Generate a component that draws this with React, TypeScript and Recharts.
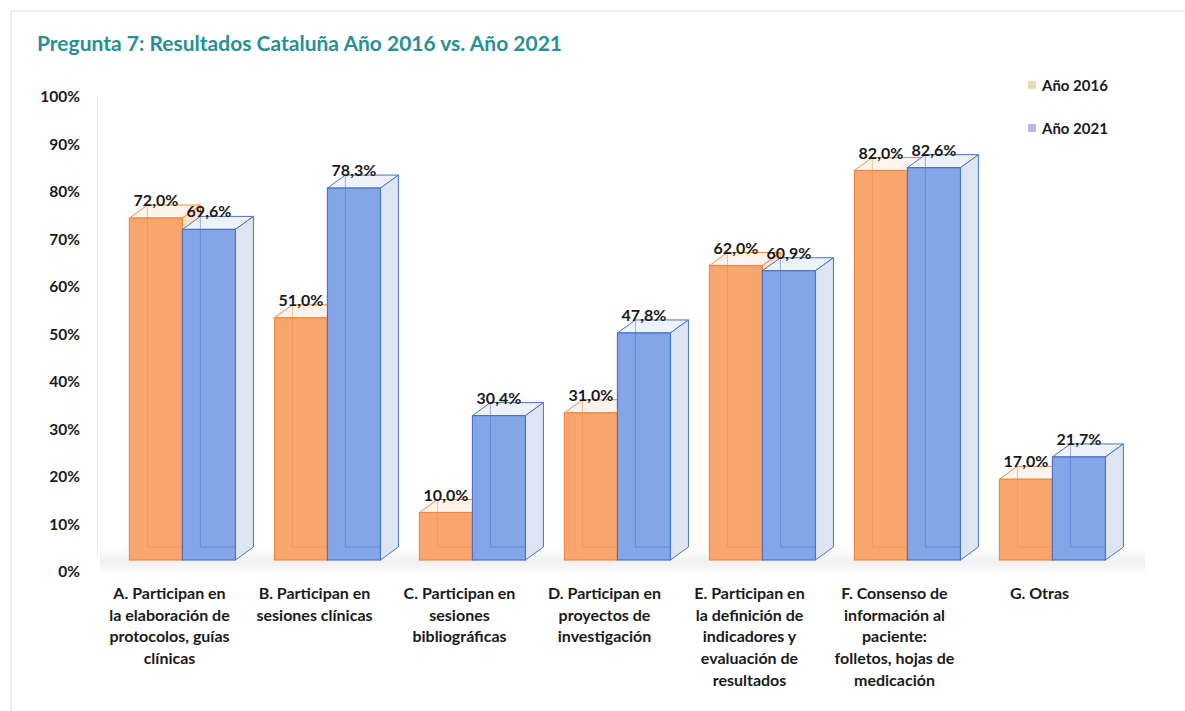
import React from 'react';
import { BarChart, Bar, XAxis, YAxis, LabelList, Legend } from 'recharts';

const categories = [
  'A. Participan en\nla elaboración de\nprotocolos, guías\nclínicas',
  'B. Participan en\nsesiones clínicas',
  'C. Participan en\nsesiones\nbibliográficas',
  'D. Participan en\nproyectos de\ninvestigación',
  'E. Participan en\nla definición de\nindicadores y\nevaluación de\nresultados',
  'F. Consenso de\ninformación al\npaciente:\nfolletos, hojas de\nmedicación',
  'G. Otras',
];
const values2016 = [72.0, 51.0, 10.0, 31.0, 62.0, 82.0, 17.0];
const values2021 = [69.6, 78.3, 30.4, 47.8, 60.9, 82.6, 21.7];
const yTicks = [0, 10, 20, 30, 40, 50, 60, 70, 80, 90, 100];
const seriesNames = ['Año 2016', 'Año 2021'];

const data = categories.map((cat, i) => ({
  cat,
  y2016: values2016[i],
  y2021: values2021[i],
}));

const FONT = 'Lato, "Open Sans", sans-serif';
const DX = 18; // profundidad 3D
const DY = 13;

const ORANGE = { front: '#F9A66E', edge: '#F28A3E', top: '#FEF4EC', side: '#FCE3D0' };
const BLUE = { front: '#84A6E8', edge: '#4A72C8', top: '#EEF2FA', side: '#DEE5F2' };

function make3DBar(c: typeof ORANGE) {
  return (props: any) => {
    const { x, y, width: w, height: h } = props;
    if (w == null || h == null) return null;
    return (
      <g>
        {/* cara superior */}
        <polygon
          points={`${x},${y} ${x + DX},${y - DY} ${x + w + DX},${y - DY} ${x + w},${y}`}
          fill={c.top}
          stroke={c.edge}
          strokeWidth={1}
        />
        {/* cara lateral */}
        <polygon
          points={`${x + w},${y} ${x + w + DX},${y - DY} ${x + w + DX},${y + h - DY} ${x + w},${y + h}`}
          fill={c.side}
          stroke={c.edge}
          strokeWidth={1}
        />
        {/* frente */}
        <rect x={x} y={y} width={w} height={h} fill={c.front} stroke={c.edge} strokeWidth={1.2} />
        {/* aristas traseras vistas a través */}
        <line x1={x + DX} y1={y - DY} x2={x + DX} y2={y + h - DY} stroke={c.edge} strokeOpacity={0.5} />
        <line x1={x + DX} y1={y + h - DY} x2={x + w} y2={y + h - DY} stroke={c.edge} strokeOpacity={0.5} />
      </g>
    );
  };
}

const OrangeBar = make3DBar(ORANGE);
const BlueBar = make3DBar(BLUE);

const fmt = (v: number) => v.toFixed(1).replace('.', ',') + '%';

const ValueLabel = (props: any) => {
  const { x, y, width, value } = props;
  return (
    <text
      x={x + width / 2}
      y={y - 12}
      textAnchor="middle"
      fontFamily={FONT}
      fontWeight={700}
      fontSize={16}
      fill="#1a1a1a"
    >
      {fmt(value)}
    </text>
  );
};

const YTick = (props: any) => {
  const { y, payload } = props;
  return (
    <text x={80} y={y + 12} dy={5} textAnchor="end" fontFamily={FONT} fontWeight={700} fontSize={15.5} fill="#1a1a1a">
      {payload.value}%
    </text>
  );
};

const XTick = (props: any) => {
  const { x, y, payload } = props;
  const lines = String(payload.value).split('\n');
  const cx = x - 13;
  return (
    <text x={cx} y={y + 31} textAnchor="middle" fontFamily={FONT} fontWeight={700} fontSize={16} fill="#1a1a1a">
      {lines.map((l, i) => (
        <tspan key={i} x={cx} dy={i === 0 ? 0 : 21.7}>
          {l}
        </tspan>
      ))}
    </text>
  );
};

const legendColors = ['#E6DCB4', '#B3BEE3'];

const LegendContent = () => (
  <div style={{ fontFamily: FONT, fontWeight: 700, fontSize: 15, color: '#1a1a1a' }}>
    {seriesNames.map((n, i) => (
      <div key={n} style={{ display: 'flex', alignItems: 'center', height: 43 }}>
        <span style={{ display: 'inline-block', width: 8, height: 8, background: legendColors[i], marginRight: 6 }} />
        {n}
      </div>
    ))}
  </div>
);

export default function App() {
  return (
    <div style={{ position: 'absolute', left: 0, top: 0, width: 1185, height: 711, background: '#fff', overflow: 'hidden' }}>
      {/* marco */}
      <div style={{ position: 'absolute', left: 10, top: 10, width: 1175, height: 701, borderLeft: '2px solid #ececec', borderTop: '2px solid #ececec' }} />
      {/* pared izquierda y suelo */}
      <div style={{ position: 'absolute', left: 97, top: 98, width: 1, height: 458, background: '#e6e9ee' }} />
      <div
        style={{
          position: 'absolute',
          left: 100,
          top: 548,
          width: 1045,
          height: 28,
          background: 'linear-gradient(180deg, rgba(235,235,235,0) 0%, rgba(228,228,231,0.55) 50%, rgba(235,235,235,0) 100%)',
        }}
      />
      <div
        style={{
          position: 'absolute',
          left: 37,
          top: 30,
          fontFamily: FONT,
          fontWeight: 700,
          fontSize: 21,
          color: '#2A8F92',
        }}
      >
        Pregunta 7: Resultados Cataluña Año 2016 vs. Año 2021
      </div>
      <BarChart
        width={1185}
        height={711}
        data={data}
        margin={{ top: 85, right: 60, bottom: 11, left: 0 }}
        barCategoryGap="13.4%"
        barGap={0}
        style={{ position: 'absolute', left: 0, top: 0 }}
      >
        <XAxis dataKey="cat" interval={0} tick={<XTick />} axisLine={false} tickLine={false} height={140} />
        <YAxis
          domain={[0, 100]}
          ticks={yTicks}
          interval={0}
          tick={<YTick />}
          axisLine={false}
          tickLine={false}
          width={110}
        />
        <Legend
          layout="vertical"
          align="center"
          verticalAlign="middle"
          content={<LegendContent />}
          wrapperStyle={{ top: 63, left: 1028, width: 120 }}
        />
        <Bar dataKey="y2016" name={seriesNames[0]} fill={ORANGE.front} shape={OrangeBar} isAnimationActive={false}>
          <LabelList dataKey="y2016" content={<ValueLabel />} />
        </Bar>
        <Bar dataKey="y2021" name={seriesNames[1]} fill={BLUE.front} shape={BlueBar} isAnimationActive={false}>
          <LabelList dataKey="y2021" content={<ValueLabel />} />
        </Bar>
      </BarChart>
    </div>
  );
}
